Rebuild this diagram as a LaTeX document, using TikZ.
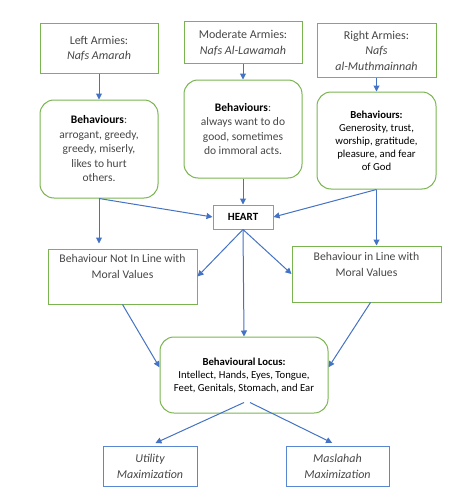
\documentclass[tikz,border=0pt]{standalone}
\usepackage{fontspec}
\setmainfont{Carlito}
\usetikzlibrary{arrows.meta, calc, positioning}
\definecolor{boxgreen}{RGB}{122,180,80}
\definecolor{flowblue}{RGB}{68,114,196}
\definecolor{endblue}{RGB}{90,135,210}
\definecolor{textgray}{RGB}{70,70,70}

\begin{document}
\begin{tikzpicture}[x=1pt, y=-1pt,
    army/.style={draw=boxgreen, line width=1pt, minimum width=118pt, align=center,
        text=textgray, font=\fontsize{12}{15.5}\selectfont},
    behave/.style={army, rounded corners=14pt, minimum height=97pt, inner sep=2pt,
        font=\fontsize{11.5}{14.5}\selectfont},
    moral/.style={army, minimum width=149pt, minimum height=55pt, font=\fontsize{11.7}{16}\selectfont},
    goal/.style={draw=endblue, line width=1pt, minimum height=40pt, align=center,
        text=textgray, font=\fontsize{12}{16}\selectfont\itshape},
    flow/.style={draw=flowblue, line width=1pt, -{Triangle[width=6pt,length=6pt]}}]
    % Frame of the page
    \useasboundingbox (0,0) rectangle (457,495);
    % Three armies
    \node[army, minimum height=49pt] (leftarmy) at (99,48.5) {Left Armies:\\\textit{Nafs Amarah}};
    \node[army, minimum height=42pt] (midarmy) at (243,43) {Moderate Armies:\\\textit{Nafs Al-Lawamah}};
    \node[army, minimum width=119pt, minimum height=53pt] (rightarmy) at (376.5,50.5)
        {Right Armies:\\\textit{Nafs}\\\textit{al-Muthmainnah}};
    % Behaviours of each army
    \node[behave, minimum height=98pt] (leftbeh) at (99,149)
        {\textbf{\color{black}Behaviours}:\\arrogant, greedy,\\greedy, miserly,\\likes to hurt\\others.};
    \node[behave, minimum height=98pt] (midbeh) at (243,129)
        {\textbf{\color{black}Behaviours}:\\always want to do\\good, sometimes\\do immoral acts.};
    \node[behave, minimum width=119pt, text=black, font=\fontsize{10.7}{13}\selectfont] (rightbeh) at (376.5,140.5)
        {\textbf{Behaviours:}\\Generosity, trust,\\worship, gratitude,\\pleasure, and fear\\of God};
    % Heart in the middle
    \node[army, minimum width=60pt, minimum height=24pt, text=black, font=\fontsize{11}{12}\selectfont\bfseries]
        (heart) at (243,217) {HEART};
    % Two kinds of behaviour
    \node[moral] (notline) at (122.5,276.5) {Behaviour Not In Line with\\Moral Values\\[4pt]};
    \node[moral, minimum height=56pt] (inline) at (366.5,274) {Behaviour in Line with\\Moral Values\\[4pt]};
    % Locus
    \node[army, rounded corners=14pt, minimum width=168pt, minimum height=76pt, text=black,
        font=\fontsize{10.7}{13}\selectfont] (locus) at (244,375)
        {\textbf{Behavioural Locus:}\\Intellect, Hands, Eyes, Tongue,\\Feet, Genitals, Stomach, and Ear};
    % Outcomes
    \node[goal, minimum width=94pt] (utility) at (150,466) {Utility\\Maximization};
    \node[goal, minimum width=103pt] (maslahah) at (337.5,466) {Maslahah\\Maximization};
    % Connectors
    \coordinate (locusleft) at ($(locus.north west)!0.4!(locus.south west)$);
    \coordinate (locusright) at ($(locus.north east)!0.4!(locus.south east)$);
    \coordinate (outleft) at ($(locus.south)+(0,-11)$);
    \coordinate (outright) at ($(locus.south)+(6,-11)$);
    \draw[flow] (leftarmy) -- (leftbeh);
    \draw[flow] (midarmy) -- (midbeh);
    \draw[flow] (rightarmy) -- (rightbeh);
    \draw[flow] (leftbeh.south) -- (heart.west);
    \draw[flow] (midbeh.south) -- (heart.north);
    \draw[flow] (rightbeh.south) -- (heart.east);
    \draw[flow, shorten >=5pt] (leftbeh.south) -- (leftbeh.south |- notline.north);
    \draw[flow] (rightbeh.south) -- (rightbeh.south |- inline.north);
    \draw[flow] (heart.south) -- (notline.east);
    \draw[flow] (heart.south) -- (inline.west);
    \draw[flow] (heart.south) -- (locus.north);
    \draw[flow] (notline.south) -- (locusleft);
    \draw[flow] ($(inline.south)+(4,0)$) -- (locusright);
    \draw[flow, shorten >=6pt] (outleft) -- (utility.north);
    \draw[flow, shorten >=6pt] (outright) -- (maslahah.north);
\end{tikzpicture}
\end{document}
